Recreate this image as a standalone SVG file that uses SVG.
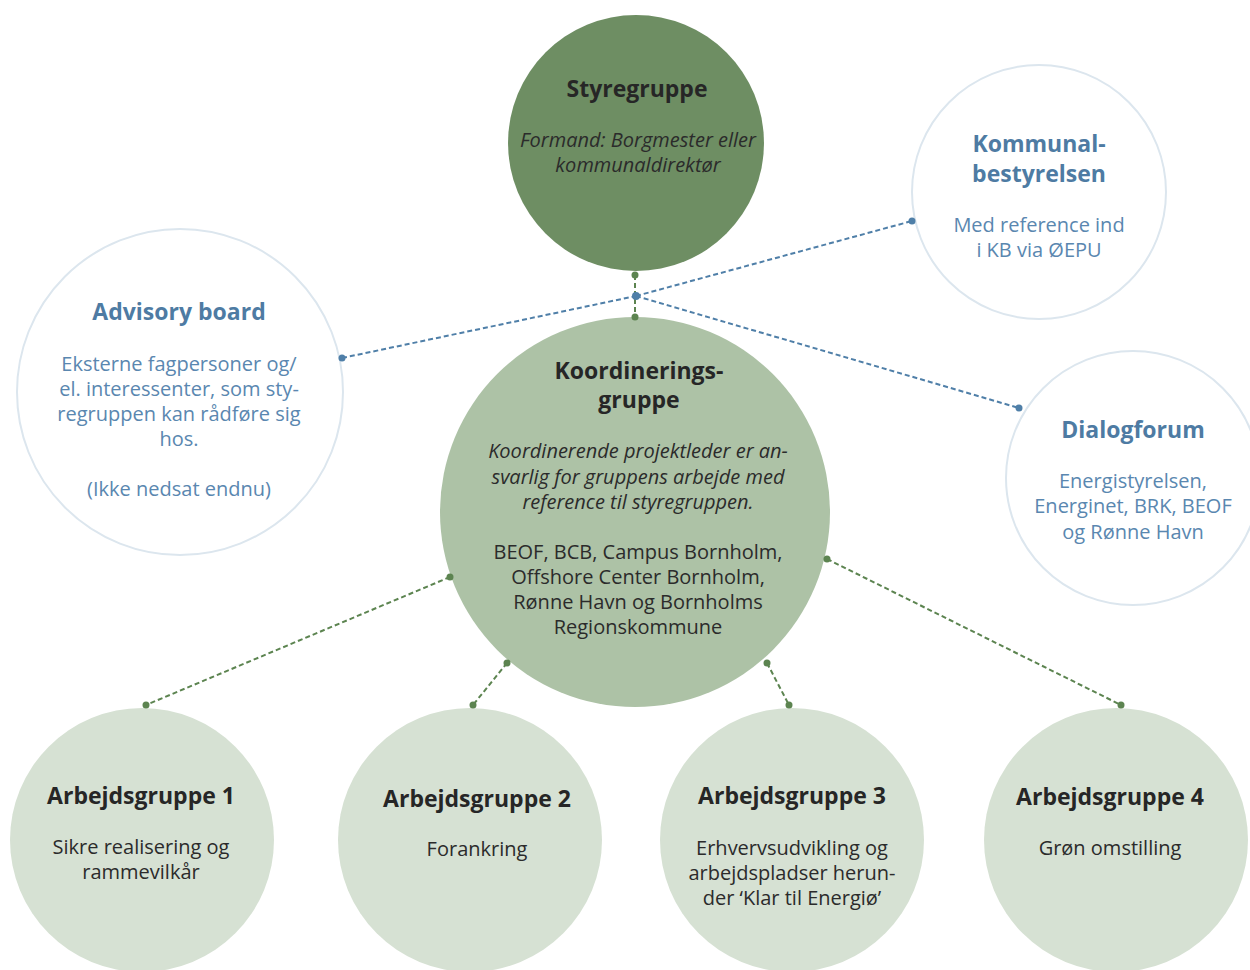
<svg xmlns="http://www.w3.org/2000/svg" width="1250" height="970" viewBox="0 0 1250 970">
<style>
text{font-family:"Open Sans","Noto Sans","DejaVu Sans",sans-serif;text-anchor:middle}
.h{font-size:23px;font-weight:bold;fill:#262626}
.hb{font-size:23px;font-weight:bold;fill:#4E7BA3}
.b{font-size:20px;fill:#2b2b2b}
.i{font-size:20px;font-style:italic;fill:#2b2b2b}
.bb{font-size:20px;fill:#5A87B0}
.outline{fill:#ffffff;stroke:#DCE6EE;stroke-width:2}
.gl{stroke:#5C8450;stroke-width:2;stroke-dasharray:5 3;fill:none}
.bl{stroke:#4F7FA8;stroke-width:2;stroke-dasharray:5 3;fill:none}
.gd{fill:#5C8450}
.bd{fill:#4F7FA8}
</style>
<rect width="1250" height="970" fill="#ffffff"/>
<g id="styregruppe">
<circle cx="636" cy="143" r="128" fill="#6E8E63"/>
<text class="h" x="637" y="97">Styregruppe</text>
<text class="i" x="638" y="147">Formand: Borgmester eller</text>
<text class="i" x="638" y="172">kommunaldirektør</text>
</g>
<g id="kommunalbestyrelsen">
<circle class="outline" cx="1039" cy="192" r="127"/>
<text class="hb" x="1039" y="152">Kommunal-</text>
<text class="hb" x="1039" y="182">bestyrelsen</text>
<text class="bb" x="1039" y="232">Med reference ind</text>
<text class="bb" x="1039" y="257">i KB via ØEPU</text>
</g>
<g id="advisory">
<circle class="outline" cx="180" cy="392" r="163"/>
<text class="hb" x="179" y="320">Advisory board</text>
<text class="bb" x="179" y="371">Eksterne fagpersoner og/</text>
<text class="bb" x="179" y="396">el. interessenter, som sty-</text>
<text class="bb" x="179" y="421">regruppen kan rådføre sig</text>
<text class="bb" x="179" y="446">hos.</text>
<text class="bb" x="179" y="496">(Ikke nedsat endnu)</text>
</g>
<g id="dialogforum">
<circle class="outline" cx="1133" cy="478" r="127"/>
<text class="hb" x="1133" y="438">Dialogforum</text>
<text class="bb" x="1133" y="488">Energistyrelsen,</text>
<text class="bb" x="1133" y="513">Energinet, BRK, BEOF</text>
<text class="bb" x="1133" y="539">og Rønne Havn</text>
</g>
<g id="koordinering">
<circle cx="635" cy="512" r="195" fill="#ADC2A6"/>
<text class="h" x="639" y="379">Koordinerings-</text>
<text class="h" x="639" y="408">gruppe</text>
<text class="i" x="638" y="458">Koordinerende projektleder er an-</text>
<text class="i" x="638" y="484">svarlig for gruppens arbejde med</text>
<text class="i" x="638" y="509">reference til styregruppen.</text>
<text class="b" x="638" y="559">BEOF, BCB, Campus Bornholm,</text>
<text class="b" x="638" y="584">Offshore Center Bornholm,</text>
<text class="b" x="638" y="609">Rønne Havn og Bornholms</text>
<text class="b" x="638" y="634">Regionskommune</text>
</g>
<g id="arbejdsgruppe1">
<circle cx="142" cy="840" r="132" fill="#D6E1D3"/>
<text class="h" x="141" y="804">Arbejdsgruppe 1</text>
<text class="b" x="141" y="854">Sikre realisering og</text>
<text class="b" x="141" y="879">rammevilkår</text>
</g>
<g id="arbejdsgruppe2">
<circle cx="470" cy="840" r="132" fill="#D6E1D3"/>
<text class="h" x="477" y="807">Arbejdsgruppe 2</text>
<text class="b" x="477" y="856">Forankring</text>
</g>
<g id="arbejdsgruppe3">
<circle cx="792" cy="840" r="132" fill="#D6E1D3"/>
<text class="h" x="792" y="804">Arbejdsgruppe 3</text>
<text class="b" x="792" y="855">Erhvervsudvikling og</text>
<text class="b" x="792" y="880">arbejdspladser herun-</text>
<text class="b" x="792" y="905">der ‘Klar til Energiø’</text>
</g>
<g id="arbejdsgruppe4">
<circle cx="1116" cy="840" r="132" fill="#D6E1D3"/>
<text class="h" x="1110" y="805">Arbejdsgruppe 4</text>
<text class="b" x="1110" y="855">Grøn omstilling</text>
</g>
<g id="connectors">
<line class="gl" x1="635" y1="275" x2="635" y2="317"/>
<line class="bl" x1="342" y1="358" x2="636" y2="296"/>
<line class="bl" x1="636" y1="296" x2="912" y2="221"/>
<line class="bl" x1="636" y1="296" x2="1019" y2="408"/>
<line class="gl" x1="450" y1="577" x2="146" y2="705"/>
<line class="gl" x1="507" y1="663" x2="473" y2="705"/>
<line class="gl" x1="767" y1="663" x2="789" y2="705"/>
<line class="gl" x1="827" y1="559" x2="1121" y2="705"/>
<circle class="gd" cx="635" cy="275" r="3.5"/>
<circle class="gd" cx="635" cy="317" r="3.5"/>
<circle class="bd" cx="636" cy="296" r="4"/>
<circle class="bd" cx="342" cy="358" r="3.5"/>
<circle class="bd" cx="912" cy="221" r="3.5"/>
<circle class="bd" cx="1019" cy="408" r="3.5"/>
<circle class="gd" cx="450" cy="577" r="3.5"/>
<circle class="gd" cx="146" cy="705" r="3.5"/>
<circle class="gd" cx="507" cy="663" r="3.5"/>
<circle class="gd" cx="473" cy="705" r="3.5"/>
<circle class="gd" cx="767" cy="663" r="3.5"/>
<circle class="gd" cx="789" cy="705" r="3.5"/>
<circle class="gd" cx="827" cy="559" r="3.5"/>
<circle class="gd" cx="1121" cy="705" r="3.5"/>
</g>
</svg>
